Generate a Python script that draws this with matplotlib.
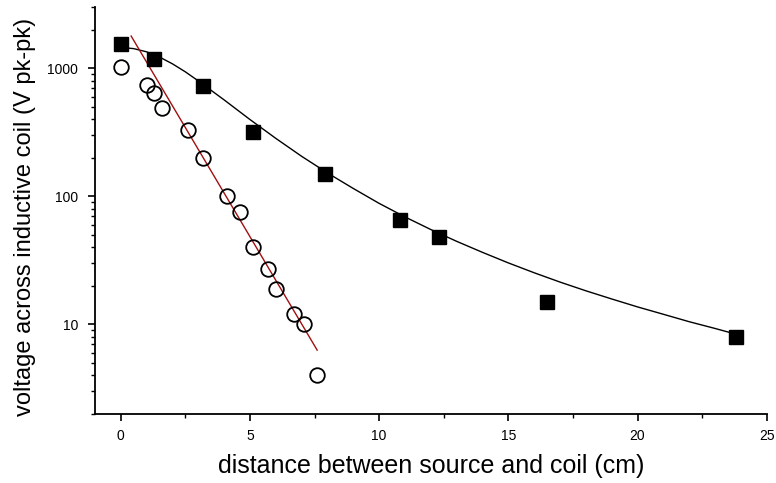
import numpy as np
import matplotlib
matplotlib.use("Agg")
import matplotlib.pyplot as plt
from matplotlib.ticker import FixedLocator, NullFormatter, LogLocator, MultipleLocator

plt.rcParams['font.family'] = ['Liberation Sans', 'DejaVu Sans']

# --- data ---
# filled squares
sq_dist = [0, 1.3, 3.2, 5.1, 7.9, 10.8, 12.3, 16.5, 23.8]
sq_volt = [1550, 1180, 720, 320, 150, 65, 48, 15, 8]

# open circles
circ_dist = [0, 1.0, 1.3, 1.6, 2.6, 3.2, 4.1, 4.6, 5.1, 5.7, 6.0, 6.7, 7.1, 7.6]
circ_volt = [1020, 740, 640, 490, 330, 200, 100, 75, 40, 27, 19, 12, 10, 4]

# black fit curve through squares
curve_dist = [0, 0.5, 1, 1.5, 2, 2.5, 3, 3.5, 4, 5, 6, 7, 8, 9, 10, 11, 12, 13,
              14, 15, 16, 17, 18, 19, 20, 21, 22, 23, 23.8]
curve_volt = [1450, 1420, 1340, 1220, 1080, 935, 795, 670, 565, 397, 283, 205,
              152, 115, 88, 69, 55, 44.5, 36.5, 30.2, 25.3, 21.4, 18.3, 15.8,
              13.7, 12.0, 10.5, 9.3, 8.4]

# red exponential fit through circles
red_dist = [0.4, 7.6]
red_volt = [1780, 6.3]

fig = plt.figure(figsize=(7.76, 4.83), dpi=100)
ax = fig.add_axes([0.1224, 0.1429, 0.8656, 0.8426])

ax.plot(curve_dist, curve_volt, color='black', lw=1.0, zorder=2)
ax.plot(red_dist, red_volt, color='#a01010', lw=1.0, zorder=2)
ax.plot(sq_dist, sq_volt, ls='none', marker='s', ms=10, color='black', zorder=3)
ax.plot(circ_dist, circ_volt, ls='none', marker='o', ms=10.5, mfc='none',
        mec='black', mew=1.3, zorder=3)

ax.set_yscale('log')
ax.set_xlim(-1, 25)
ax.set_ylim(2.0, 3000)

ax.xaxis.set_major_locator(MultipleLocator(5))
ax.xaxis.set_minor_locator(MultipleLocator(2.5))
ax.yaxis.set_major_locator(FixedLocator([10, 100, 1000]))
ax.set_yticklabels(['10', '100', '1000'])
ax.yaxis.set_minor_locator(LogLocator(base=10, subs=np.arange(2, 10)))
ax.yaxis.set_minor_formatter(NullFormatter())

for s in ['top', 'right']:
    ax.spines[s].set_visible(False)
for s in ['left', 'bottom']:
    ax.spines[s].set_linewidth(1.3)

ax.tick_params(which='major', length=5, width=1.2, labelsize=10, direction='out')
ax.tick_params(axis='y', which='major', pad=7)
ax.tick_params(axis='x', which='major', pad=6)
ax.tick_params(which='minor', length=3, width=1.0, direction='out')

ax.set_xlabel("distance between source and coil (cm)", fontsize=18, labelpad=8)
ax.set_ylabel("voltage across inductive coil (V pk-pk)", fontsize=17)
ax.yaxis.set_label_coords(-0.088, 0.485)

fig.savefig("out.png", dpi=100)
